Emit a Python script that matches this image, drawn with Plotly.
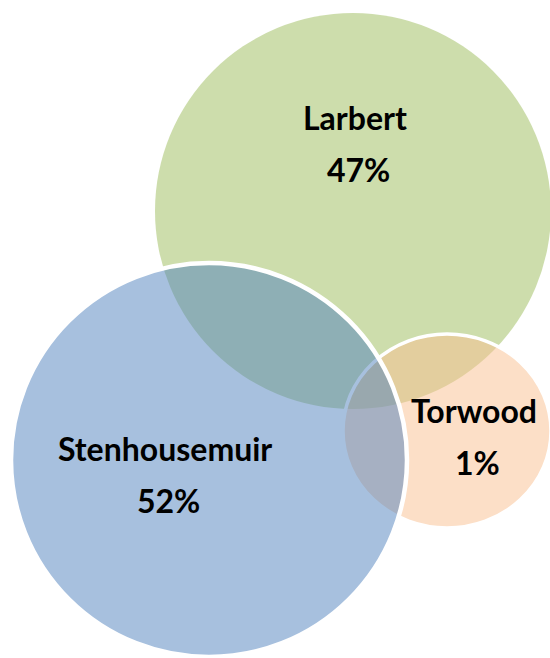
import plotly.graph_objects as go

# ---- data ----
categories = ["Larbert", "Stenhousemuir", "Torwood"]
shares = [47, 52, 1]  # percent

# ---- layout of the circles (pixel-like coordinates, y downwards) ----
circle_geom = {
    "Larbert":       dict(cx=353, cy=211, rx=198, ry=198),
    "Stenhousemuir": dict(cx=209, cy=460, rx=198, ry=197),
    "Torwood":       dict(cx=447, cy=431, rx=104, ry=97),
}
circle_style = {
    "Larbert":       dict(fill="rgba(155,187,89,0.5)", line_w=0),
    "Stenhousemuir": dict(fill="rgba(79,129,189,0.5)", line_w=4.5),
    "Torwood":       dict(fill="rgba(250,192,144,0.5)", line_w=3.5),
}
draw_order = ["Larbert", "Torwood", "Stenhousemuir"]
label_pos = {
    "Larbert":       dict(x=355, y_name=117, y_pct=169),
    "Stenhousemuir": dict(x=165, y_name=448, y_pct=500),
    "Torwood":       dict(x=474, y_name=410, y_pct=462),
}

fig = go.Figure()
# invisible trace to anchor axes
fig.add_trace(go.Scatter(x=[0, 550], y=[0, 658], mode="markers",
                         marker=dict(opacity=0), hoverinfo="skip", showlegend=False))

shapes = []
for name in draw_order:
    g = circle_geom[name]
    s = circle_style[name]
    shapes.append(dict(
        type="circle", xref="x", yref="y",
        x0=g["cx"] - g["rx"], x1=g["cx"] + g["rx"],
        y0=g["cy"] - g["ry"], y1=g["cy"] + g["ry"],
        fillcolor=s["fill"],
        line=dict(color="white", width=s["line_w"]) if s["line_w"] > 0 else dict(width=0),
        layer="above",
    ))

annotations = []
font = dict(family="Lato, 'Liberation Sans', Arial, sans-serif", size=32, color="black")
for name, val in zip(categories, shares):
    p = label_pos[name]
    annotations.append(dict(x=p["x"], y=p["y_name"], xref="x", yref="y", text=f"<b>{name}</b>",
                            showarrow=False, font=font, xanchor="center", yanchor="middle"))
    annotations.append(dict(x=p["x"] + 3, y=p["y_pct"], xref="x", yref="y", text=f"<b>{val}%</b>",
                            showarrow=False, font=font, xanchor="center", yanchor="middle"))

fig.update_layout(
    width=550, height=658,
    margin=dict(l=0, r=0, t=0, b=0),
    paper_bgcolor="white", plot_bgcolor="white",
    xaxis=dict(range=[0, 550], visible=False, fixedrange=True),
    yaxis=dict(range=[658, 0], visible=False, fixedrange=True),
    shapes=shapes, annotations=annotations,
    showlegend=False,
)

fig.write_html(
    "out.html",
    config={"displayModeBar": False},
    post_script="document.body.style.margin='0';document.body.style.padding='0';"
                "document.body.style.overflow='hidden';document.documentElement.style.overflow='hidden';",
)
